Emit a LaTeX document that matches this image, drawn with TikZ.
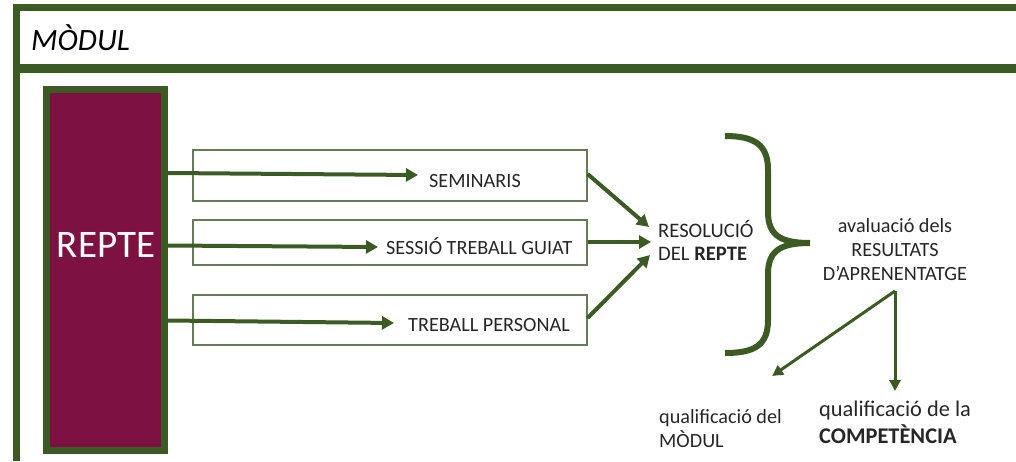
\documentclass[tikz,border=0pt]{standalone}
\usepackage{fontspec}
\setmainfont{Carlito}
\usetikzlibrary{arrows.meta}
\definecolor{dgreen}{HTML}{3B5A24}
\definecolor{boxline}{HTML}{667A55}
\definecolor{maroon}{HTML}{7D1242}
\definecolor{txt}{HTML}{262626}
\begin{document}
\begin{tikzpicture}[x=1pt,y=-1pt,
  frameline/.style={dgreen},
  actbox/.style={draw=boxline, line width=1.2pt, inner sep=0pt},
  lbl/.style={text=txt, inner sep=0pt, font=\fontsize{20.2}{23}\selectfont},
  thick arr/.style={dgreen, line width=4pt, -{Triangle[length=12pt,width=13pt]}},
  thin arr/.style={dgreen, line width=3pt, -{Triangle[length=11pt,width=11pt]}}]
\useasboundingbox (0,0) rectangle (1016,461);
% frame
\draw[frameline, line width=7pt] (16,461) -- (16,7.5) -- (1016,7.5);
\draw[frameline, line width=9pt] (16,68) -- (1016,68);
\node[anchor=base west, inner sep=0pt, text=black, font=\fontsize{31}{36}\selectfont\itshape] (title) at (31,50) {MÒDUL};
% REPTE
\node[draw=dgreen, line width=7pt, fill=maroon, minimum width=118, minimum height=361, inner sep=0pt] (repte) at (105.5,270) {};
\node[anchor=base, inner sep=0pt, text=white, font=\fontsize{39}{44}\selectfont] (reptetxt) at (106,257) {REPTE};
% activity boxes
\node[actbox, minimum width=394, minimum height=51] (b1) at (390,175.5) {};
\node[actbox, minimum width=394, minimum height=45] (b2) at (390,242.5) {};
\node[actbox, minimum width=394, minimum height=50] (b3) at (390,320) {};
\node[lbl, anchor=base west] (s1) at (429,187) {SEMINARIS};
\node[lbl, anchor=base west] (s2) at (386,254) {SESSIÓ TREBALL GUIAT};
\node[lbl, anchor=base west] (s3) at (408,331) {TREBALL PERSONAL};
\coordinate (t1) at (418,175);
\coordinate (t2) at (378,247);
\coordinate (t3) at (394,323);
\draw[thick arr] (repte.east |- 0,173) -- (t1);
\draw[thick arr] (repte.east |- 0,245.5) -- (t2);
\draw[thick arr] (repte.east |- 0,320.5) -- (t3);
% resolution
\node[lbl, anchor=base west, align=left, font=\fontsize{20.6}{23}\selectfont] (res) at (658,260) {RESOLUCIÓ\\DEL \textbf{REPTE}};
\coordinate (r1) at (649,227);
\coordinate (r2) at (651,242);
\coordinate (r3) at (650,255);
\draw[thick arr] (b1.east |- 0,174) -- (r1);
\draw[thick arr] (b2.east |- 0,242) -- (r2);
\draw[thick arr] (b3.east |- 0,318) -- (r3);
% brace
\draw[dgreen, line width=6pt] (725,136) .. controls (755,136) and (768,145) .. (768,170)
  -- (768,212) .. controls (768,235) and (780,243) .. (810,243)
  .. controls (780,243) and (768,251) .. (768,274)
  -- (768,320) .. controls (768,345) and (755,353) .. (725,353);
% evaluation
\node[lbl, anchor=base, align=center, font=\fontsize{20.2}{24}\selectfont] (aval) at (895,280) {avaluació dels\\RESULTATS\\D’APRENENTATGE};
\coordinate (apex) at (895,291);
\coordinate (q1) at (772,376);
\coordinate (q2) at (895,391);
\draw[thin arr] (apex) -- (q1);
\draw[thin arr] (apex) -- (q2);
% qualifications
\node[lbl, anchor=base west, align=left, font=\fontsize{20.2}{24}\selectfont] (qm) at (659,447) {qualificació del\\MÒDUL};
\node[lbl, anchor=base west, align=left, font=\fontsize{22.4}{27}\selectfont] (qc) at (819,443) {qualificació de la\\\textbf{COMPETÈNCIA}};
\end{tikzpicture}
\end{document}
